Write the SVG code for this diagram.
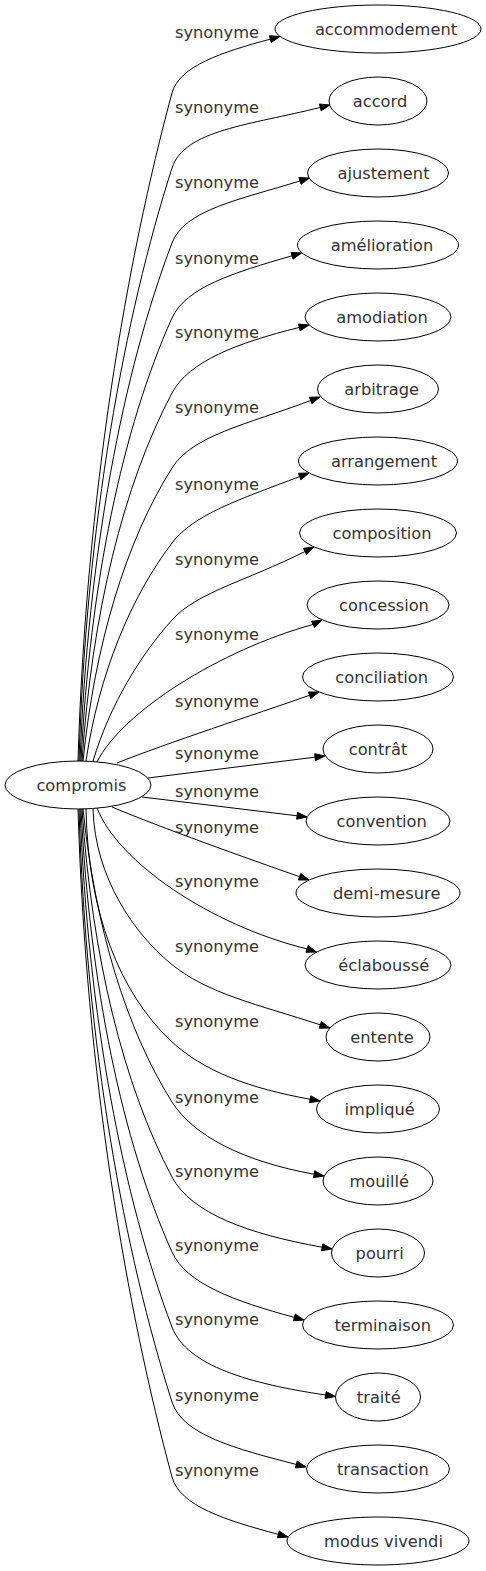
<svg xmlns="http://www.w3.org/2000/svg" width="486" height="1571" viewBox="0 0 486 1571">
<style>
text{font-family:"DejaVu Sans","Liberation Sans",sans-serif;font-size:16.25px;fill:#333;text-anchor:middle}
.node ellipse{fill:none;stroke:#000;stroke-width:1}
.edges path{fill:none;stroke:#000;stroke-width:1}
.edges polygon{fill:#000;stroke:#000;stroke-width:1}
</style>
<rect width="486" height="1571" fill="#fff"/>
<g class="edges" id="edges">
<path d="M78,761 C86,493.8 126.9,260 172,93 C179.3,66 221.7,52.2 270.35,39.11"/><polygon points="280,36.5 271.26,42.49 269.44,35.73"/>
<path d="M79,761 C86,523.8 124.6,316.25 172,168 C184.2,129.9 250.4,124.9 320.3,107.43"/><polygon points="330,105 321.15,110.83 319.45,104.03"/>
<path d="M80,761 C88,553.8 122.8,372.5 172,243 C184.6,209.8 238.8,199.9 299.95,180.96"/><polygon points="309.5,178 300.99,184.3 298.91,177.62"/>
<path d="M81,761 C90,583.8 122.2,428.75 172,318 C185.9,287.2 233.6,272.7 292,255.79"/><polygon points="301.6,253 292.97,259.15 291.03,252.43"/>
<path d="M82,761 C92,613.8 123.2,485 172,393 C188.8,361.4 236.8,343 299.3,327.43"/><polygon points="309,325 300.15,330.83 298.45,324.03"/>
<path d="M83,761 C95,643.8 125.9,541.25 172,468 C192.5,435.4 245.6,424.9 310.64,400.51"/><polygon points="320,397 311.87,403.79 309.41,397.23"/>
<path d="M86,761 C99,673.8 130.6,597.5 172,543 C193.8,514.3 239.1,499.6 299.65,476.55"/><polygon points="309,473 300.89,479.82 298.41,473.28"/>
<path d="M93,761 C110,704.6 140.3,655.25 172,620 C197,592.2 244.9,581.6 305.06,551.47"/><polygon points="314,547 306.63,554.6 303.49,548.34"/>
<path d="M97,762 C122,712 220,650 313.06,624.47"/><polygon points="322,620 314.63,627.6 311.49,621.34"/>
<path d="M117,763 C167,743 254.8,714.5 309.56,695.3"/><polygon points="319,692 310.72,698.6 308.4,692"/>
<path d="M148,778 L315.07,757.18"/><polygon points="325,756 315.48,760.66 314.66,753.7"/>
<path d="M142,797 L297.08,815.77"/><polygon points="307,817 296.65,819.24 297.51,812.3"/>
<path d="M112,807 C162,828 244.8,857.5 299.56,876.7"/><polygon points="309,880 298.4,880 300.72,873.4"/>
<path d="M97,808 C118,862 210,925 307.08,948.95"/><polygon points="316.6,952 306.01,952.28 308.15,945.62"/>
<path d="M93,809 C95,878 134.5,933.4 170,963 C207.4,994.2 258.6,1004.5 320.3,1024.87"/><polygon points="329.8,1028 319.2,1028.19 321.4,1021.55"/>
<path d="M86,809 C88,913 119.8,992.2 170,1040 C203.1,1071.5 250.2,1088.4 310.16,1099.23"/><polygon points="320,1101 309.54,1102.67 310.78,1095.79"/>
<path d="M83,809 C95,926.2 125.9,1028.75 172,1102 C193.3,1135.8 243.5,1161.5 314.16,1174.23"/><polygon points="324,1176 313.54,1177.67 314.78,1170.79"/>
<path d="M82,809 C92,956.2 123.2,1085 172,1177 C191.4,1213.6 248.76,1234 322.16,1247.23"/><polygon points="332,1249 321.54,1250.67 322.78,1243.79"/>
<path d="M81,809 C90,986.2 122.2,1141.25 172,1252 C186.2,1283.6 234.15,1301.1 294.35,1317.39"/><polygon points="304,1320 293.44,1320.77 295.26,1314.01"/>
<path d="M80,809 C88,1016.2 122.8,1197.5 172,1327 C186.9,1366.3 250.8,1383.8 325.61,1395.02"/><polygon points="335.5,1396.5 325.09,1398.48 326.13,1391.56"/>
<path d="M79,809 C86,1046.2 124.6,1253.75 172,1402 C182.6,1435.1 235.7,1448.7 296.32,1464.48"/><polygon points="306,1467 295.44,1467.87 297.2,1461.09"/>
<path d="M78,809 C86,1076.2 126.9,1310 172,1477 C179.9,1506.2 225.85,1520.2 278.35,1534.39"/><polygon points="288,1537 277.44,1537.77 279.26,1531.01"/>
<g id="edge-labels">
<text x="217" y="38">synonyme</text>
<text x="217" y="113">synonyme</text>
<text x="217" y="188">synonyme</text>
<text x="217" y="264">synonyme</text>
<text x="217" y="338">synonyme</text>
<text x="217" y="413">synonyme</text>
<text x="217" y="490">synonyme</text>
<text x="217" y="565">synonyme</text>
<text x="217" y="640">synonyme</text>
<text x="217" y="707">synonyme</text>
<text x="217" y="759">synonyme</text>
<text x="217" y="797">synonyme</text>
<text x="217" y="833">synonyme</text>
<text x="217" y="887">synonyme</text>
<text x="217" y="952">synonyme</text>
<text x="217" y="1027">synonyme</text>
<text x="217" y="1103">synonyme</text>
<text x="217" y="1177">synonyme</text>
<text x="217" y="1251">synonyme</text>
<text x="217" y="1325">synonyme</text>
<text x="217" y="1401">synonyme</text>
<text x="217" y="1476">synonyme</text>
</g>
</g>
<g class="node" id="compromis"><ellipse cx="78" cy="785" rx="73" ry="24"/><text x="81.5" y="790.5">compromis</text></g>
<g class="node" id="accommodement"><ellipse cx="378" cy="29" rx="103" ry="24"/><text x="386" y="34.5">accommodement</text></g>
<g class="node" id="accord"><ellipse cx="378" cy="101" rx="49" ry="24"/><text x="380" y="106.5">accord</text></g>
<g class="node" id="ajustement"><ellipse cx="378" cy="173" rx="70.5" ry="24"/><text x="383.5" y="178.5">ajustement</text></g>
<g class="node" id="amelioration"><ellipse cx="378" cy="245" rx="80.5" ry="24"/><text x="382" y="250.5">amélioration</text></g>
<g class="node" id="amodiation"><ellipse cx="378" cy="317" rx="73" ry="24"/><text x="382" y="322.5">amodiation</text></g>
<g class="node" id="arbitrage"><ellipse cx="378" cy="389" rx="60.5" ry="24"/><text x="381.7" y="394.5">arbitrage</text></g>
<g class="node" id="arrangement"><ellipse cx="378" cy="461" rx="79.5" ry="24"/><text x="384" y="466.5">arrangement</text></g>
<g class="node" id="composition"><ellipse cx="378" cy="533" rx="78.5" ry="24"/><text x="382" y="538.5">composition</text></g>
<g class="node" id="concession"><ellipse cx="378" cy="605" rx="71" ry="24"/><text x="384" y="610.5">concession</text></g>
<g class="node" id="conciliation"><ellipse cx="378" cy="677" rx="75.5" ry="24"/><text x="381.7" y="682.5">conciliation</text></g>
<g class="node" id="contrat"><ellipse cx="378" cy="749" rx="55" ry="24"/><text x="378" y="754.5">contrât</text></g>
<g class="node" id="convention"><ellipse cx="378" cy="821" rx="72" ry="24"/><text x="381.7" y="826.5">convention</text></g>
<g class="node" id="demi-mesure"><ellipse cx="378" cy="893" rx="82" ry="24"/><text x="386.7" y="898.5">demi-mesure</text></g>
<g class="node" id="eclabousse"><ellipse cx="378" cy="965" rx="73" ry="24"/><text x="383.8" y="970.5">éclaboussé</text></g>
<g class="node" id="entente"><ellipse cx="378" cy="1037" rx="52" ry="24"/><text x="382" y="1042.5">entente</text></g>
<g class="node" id="implique"><ellipse cx="378" cy="1109" rx="61.5" ry="24"/><text x="379.7" y="1114.5">impliqué</text></g>
<g class="node" id="mouille"><ellipse cx="378" cy="1181" rx="55" ry="24"/><text x="379.3" y="1186.5">mouillé</text></g>
<g class="node" id="pourri"><ellipse cx="378" cy="1253" rx="46.5" ry="24"/><text x="379.7" y="1258.5">pourri</text></g>
<g class="node" id="terminaison"><ellipse cx="378" cy="1325" rx="75.5" ry="24"/><text x="382.7" y="1330.5">terminaison</text></g>
<g class="node" id="traite"><ellipse cx="378" cy="1397" rx="42.5" ry="24"/><text x="378.8" y="1402.5">traité</text></g>
<g class="node" id="transaction"><ellipse cx="378" cy="1469" rx="71.5" ry="24"/><text x="382.8" y="1474.5">transaction</text></g>
<g class="node" id="modus-vivendi"><ellipse cx="378" cy="1541" rx="91" ry="24"/><text x="383.5" y="1546.5">modus vivendi</text></g>
</svg>
